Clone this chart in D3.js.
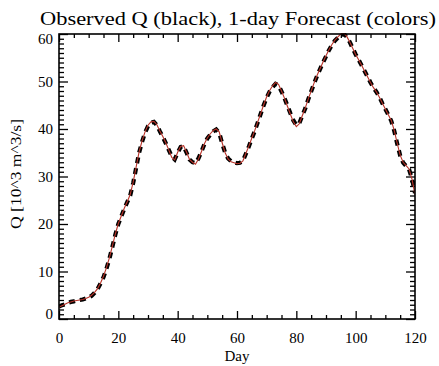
<!DOCTYPE html>
<html>
<head>
<meta charset="utf-8">
<script src="https://cdn.jsdelivr.net/npm/d3@7/dist/d3.min.js"></script>
<style>
  html, body { margin: 0; padding: 0; background: #fff; }
  svg { display: block; }
  text { font-family: "Liberation Serif", "DejaVu Serif", Times, serif; fill: #000; }
</style>
</head>
<body>
<svg id="chart" width="439" height="366"></svg>
<script>
// Daily discharge, days 0..120 (thousand m^3/s)
const days = d3.range(0, 121);
const observedQ = [
  2.6, 2.9, 3.1, 3.4, 3.6, 3.7, 3.9, 4.0, 4.1, 4.3,
  4.5, 4.9, 5.5, 6.3, 7.5, 8.8, 10.6, 12.7, 15.2, 17.8,
  20.0, 21.6, 23.2, 24.6, 26.0, 28.6, 31.8, 35.0, 37.3, 39.2,
  40.6, 41.3, 41.5, 40.8, 39.5, 38.3, 37.0, 35.6, 34.2, 33.6,
  35.0, 36.2, 36.4, 35.0, 33.6, 33.0, 32.8, 33.8, 35.2, 36.8,
  38.0, 38.8, 39.5, 39.9, 39.2, 37.0, 35.0, 33.8, 33.2, 33.0,
  32.8, 32.9, 33.3, 34.8, 36.3, 38.0, 39.6, 41.4, 43.2, 45.0,
  46.6, 47.9, 48.8, 49.5, 49.2, 47.9, 46.5, 44.9, 43.3, 41.8,
  40.8, 41.2, 42.8, 44.3, 46.2, 47.9, 49.6, 51.2, 52.6, 54.0,
  55.3, 56.6, 57.7, 58.6, 59.2, 59.8, 60.0, 59.4, 58.3, 57.0,
  55.7, 54.6, 53.4, 52.2, 51.0, 49.8, 48.7, 47.8, 46.7, 45.4,
  44.2, 43.0, 41.7, 39.6, 36.9, 34.4, 32.9, 32.2, 31.5, 29.5,
  26.5
];
// 1-day-ahead forecast for the same days
const forecastQ = [
  2.5, 2.8, 3.1, 3.4, 3.6, 3.8, 3.9, 4.0, 4.1, 4.3,
  4.6, 5.0, 5.6, 6.4, 7.6, 9.0, 10.8, 12.9, 15.4, 17.9,
  20.1, 21.7, 23.3, 24.7, 26.2, 28.8, 32.0, 35.2, 37.5, 39.4,
  40.8, 41.5, 41.6, 40.9, 39.6, 38.4, 37.1, 35.6, 34.0, 33.5,
  35.1, 36.3, 36.5, 35.1, 33.6, 33.0, 32.6, 33.7, 35.2, 36.9,
  38.1, 39.0, 39.7, 40.0, 39.4, 37.1, 35.0, 33.7, 33.1, 32.9,
  32.7, 32.8, 33.3, 34.9, 36.4, 38.1, 39.7, 41.5, 43.3, 45.1,
  46.8, 48.1, 49.1, 49.8, 49.4, 48.0, 46.5, 44.8, 43.1, 41.5,
  40.5, 41.1, 42.8, 44.4, 46.3, 48.0, 49.7, 51.3, 52.7, 54.1,
  55.4, 56.7, 57.8, 58.7, 59.4, 60.0, 60.2, 59.5, 58.3, 57.0,
  55.7, 54.6, 53.4, 52.2, 51.0, 49.8, 48.7, 47.8, 46.7, 45.4,
  44.2, 43.0, 41.8, 39.7, 37.0, 34.5, 33.0, 32.3, 31.6, 29.4,
  26.2
];
const xTicks = [0, 20, 40, 60, 80, 100, 120];
const yTicks = [0, 10, 20, 30, 40, 50, 60];
const titleText = "Observed Q (black), 1-day Forecast (colors)";
const xTitle = "Day";
const yTitle = "Q [10^3 m^3/s]";

const svg = d3.select("#chart");
const plotLeft = 59, plotRight = 415, plotTop = 34, plotBottom = 319;

const x = d3.scaleLinear().domain([0, 120]).range([plotLeft, plotRight]);
const y = d3.scaleLinear().domain([0, 60]).range([plotBottom, plotTop]);

const xMinor = d3.range(0, 121, 5).filter(d => !xTicks.includes(d));
const yMinor = d3.range(0, 61, 1).filter(d => !yTicks.includes(d));

const tickFont = 15;

function styleAxis(g) {
  g.select(".domain").remove();
  g.selectAll(".tick line").attr("stroke", "#000").attr("stroke-width", 1.3);
  g.selectAll(".tick text").style("font-size", tickFont + "px")
    .style("font-family", '"Liberation Serif", "DejaVu Serif", serif');
}

// bottom axis with labels
svg.append("g").attr("transform", `translate(0,${plotBottom})`)
  .call(d3.axisBottom(x).tickValues(xTicks).tickSize(-8).tickPadding(13).tickFormat(d3.format("d")))
  .call(styleAxis);
svg.append("g").attr("transform", `translate(0,${plotBottom})`)
  .call(d3.axisBottom(x).tickValues(xMinor).tickSize(-4).tickFormat(""))
  .call(styleAxis);
// top axis (mirror)
svg.append("g").attr("transform", `translate(0,${plotTop})`)
  .call(d3.axisTop(x).tickValues(xTicks).tickSize(-8).tickFormat(""))
  .call(styleAxis);
svg.append("g").attr("transform", `translate(0,${plotTop})`)
  .call(d3.axisTop(x).tickValues(xMinor).tickSize(-4).tickFormat(""))
  .call(styleAxis);
// left axis with labels
const yAxisG = svg.append("g").attr("transform", `translate(${plotLeft},0)`)
  .call(d3.axisLeft(y).tickValues(yTicks).tickSize(-9).tickPadding(6).tickFormat(d3.format("d")))
  .call(styleAxis);
yAxisG.selectAll(".tick text").attr("dy", d => d === 0 ? "-0.05em" : d === 60 ? "0.6em" : "0.32em");
svg.append("g").attr("transform", `translate(${plotLeft},0)`)
  .call(d3.axisLeft(y).tickValues(yMinor).tickSize(-5).tickFormat(""))
  .call(styleAxis);
// right axis (mirror)
svg.append("g").attr("transform", `translate(${plotRight},0)`)
  .call(d3.axisRight(y).tickValues(yTicks).tickSize(-9).tickFormat(""))
  .call(styleAxis);
svg.append("g").attr("transform", `translate(${plotRight},0)`)
  .call(d3.axisRight(y).tickValues(yMinor).tickSize(-5).tickFormat(""))
  .call(styleAxis);

// clip to plot frame
svg.append("clipPath").attr("id", "plotClip")
  .append("rect").attr("x", plotLeft).attr("y", plotTop - 1)
  .attr("width", plotRight - plotLeft).attr("height", plotBottom - plotTop + 1);

const line = d3.line().x((d, i) => x(days[i])).y(d => y(d));

// observed: thick dashed black
svg.append("path")
  .attr("clip-path", "url(#plotClip)")
  .attr("d", line(observedQ))
  .attr("fill", "none")
  .attr("stroke", "#000")
  .attr("stroke-width", 4.2)
  .attr("stroke-dasharray", "6,5");

// forecast: thin red
svg.append("path")
  .attr("clip-path", "url(#plotClip)")
  .attr("d", line(forecastQ))
  .attr("fill", "none")
  .attr("stroke", "#b83228")
  .attr("stroke-width", 1.1);

// frame
svg.append("rect")
  .attr("x", plotLeft).attr("y", plotTop)
  .attr("width", plotRight - plotLeft).attr("height", plotBottom - plotTop)
  .attr("fill", "none").attr("stroke", "#000").attr("stroke-width", 1.6);

// titles
svg.append("text")
  .attr("x", 238).attr("y", 25)
  .attr("text-anchor", "middle")
  .style("font-size", "19px")
  .attr("textLength", 396).attr("lengthAdjust", "spacingAndGlyphs")
  .text(titleText);

svg.append("text")
  .attr("x", (plotLeft + plotRight) / 2).attr("y", 361)
  .attr("text-anchor", "middle")
  .style("font-size", "15px")
  .text(xTitle);

svg.append("text")
  .attr("transform", `translate(21,174) rotate(-90)`)
  .attr("text-anchor", "middle")
  .style("font-size", "15px")
  .attr("textLength", 110).attr("lengthAdjust", "spacingAndGlyphs")
  .text(yTitle);
</script>
</body>
</html>
